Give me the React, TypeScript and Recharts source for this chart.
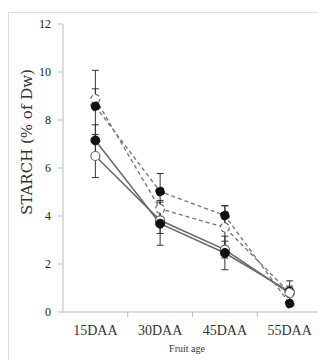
import { ErrorBar, Line, LineChart, XAxis, YAxis } from "recharts";

const AGES = ["15DAA", "30DAA", "45DAA", "55DAA"];
const FILLED_DASHED = [8.57, 5.02, 4.02, 0.35];
const FILLED_DASHED_ERR = [1.5, 0.75, 0.42, 0.1];
const OPEN_DASHED = [8.88, 4.3, 3.52, 0.8];
const OPEN_DASHED_ERR = [0.42, 0.35, 0.9, 0.5];
const FILLED_SOLID = [7.15, 3.68, 2.46, 0.85];
const FILLED_SOLID_ERR = [0.65, 0.9, 0.7, 0.15];
const OPEN_SOLID = [6.5, 3.82, 2.6, 0.78];
const OPEN_SOLID_ERR = [0.9, 0.55, 0.35, 0.3];
const Y_TICKS = [0, 2, 4, 6, 8, 10, 12];

// categories sit in the middle of each band; tick marks at band edges
const data = AGES.map((age, i) => ({
  age,
  x: i + 0.5,
  fd: FILLED_DASHED[i],
  fdErr: FILLED_DASHED_ERR[i],
  od: OPEN_DASHED[i],
  odErr: OPEN_DASHED_ERR[i],
  fs: FILLED_SOLID[i],
  fsErr: FILLED_SOLID_ERR[i],
  os: OPEN_SOLID[i],
  osErr: OPEN_SOLID_ERR[i],
}));
const X_TICKS = AGES.flatMap((_, i) => [i + 0.5, i + 1]);

const SERIF = "'Liberation Serif', 'DejaVu Serif', serif";

function XTick(props: any) {
  const { x, y, payload } = props;
  const v = payload.value as number;
  if (Number.isInteger(v)) {
    return <line x1={x} x2={x} y1={y} y2={y + 5} stroke="#bbb" />;
  }
  return (
    <text
      x={x}
      y={y + 23}
      textAnchor="middle"
      fontSize={14}
      fontFamily={SERIF}
      fill="#333"
    >
      {AGES[Math.floor(v)]}
    </text>
  );
}

const filledDot = { r: 4.5, fill: "#111", stroke: "#111", strokeWidth: 1 };
const openDot = { r: 4.5, fill: "#fff", stroke: "#666", strokeWidth: 1.2 };

export default function App() {
  return (
    <div
      style={{
        marginTop: 4,
        borderLeft: "1px solid #ddd",
        borderTop: "1px solid #ddd",
        width: 317,
        height: 347,
      }}
    >
      <LineChart
        width={317}
        height={347}
        data={data}
        margin={{ top: 11, right: 4, left: 0, bottom: 0 }}
      >
        <XAxis
          dataKey="x"
          type="number"
          domain={[0, 4]}
          ticks={X_TICKS}
          interval={0}
          tickLine={false}
          tickSize={0}
          tickMargin={0}
          tick={<XTick />}
          stroke="#bbb"
          height={48}
          label={{
            content: () => (
              <text
                x={178}
                y={339}
                textAnchor="middle"
                fontSize={10}
                fontFamily={SERIF}
                fill="#333"
              >
                Fruit age
              </text>
            ),
          }}
        />
        <YAxis
          domain={[0, 12]}
          ticks={Y_TICKS}
          interval={0}
          width={54}
          tickSize={5}
          tickMargin={7}
          stroke="#bbb"
          tick={{ fontSize: 12, fontFamily: SERIF, fill: "#222" }}
          label={{
            content: () => (
              <text
                x={18}
                y={129}
                transform="rotate(-90 18 129)"
                textAnchor="middle"
                dominantBaseline="central"
                fontSize={15}
                fontFamily="'DejaVu Serif', serif"
                fill="#333"
              >
                STARCH (% of Dw)
              </text>
            ),
          }}
        />
        <Line
          dataKey="os"
          stroke="#6a6a6a"
          strokeWidth={1.6}
          dot={openDot}
          isAnimationActive={false}
        >
          <ErrorBar dataKey="osErr" width={3.5} stroke="#333" strokeWidth={1} direction="y" />
        </Line>
        <Line
          dataKey="fs"
          stroke="#6a6a6a"
          strokeWidth={1.6}
          dot={filledDot}
          isAnimationActive={false}
        >
          <ErrorBar dataKey="fsErr" width={3.5} stroke="#333" strokeWidth={1} direction="y" />
        </Line>
        <Line
          dataKey="od"
          stroke="#7a7a7a"
          strokeWidth={1.4}
          strokeDasharray="4 3"
          dot={openDot}
          isAnimationActive={false}
        >
          <ErrorBar dataKey="odErr" width={3.5} stroke="#333" strokeWidth={1} direction="y" />
        </Line>
        <Line
          dataKey="fd"
          stroke="#7a7a7a"
          strokeWidth={1.4}
          strokeDasharray="4 3"
          dot={filledDot}
          isAnimationActive={false}
        >
          <ErrorBar dataKey="fdErr" width={3.5} stroke="#333" strokeWidth={1} direction="y" />
        </Line>
      </LineChart>
    </div>
  );
}
